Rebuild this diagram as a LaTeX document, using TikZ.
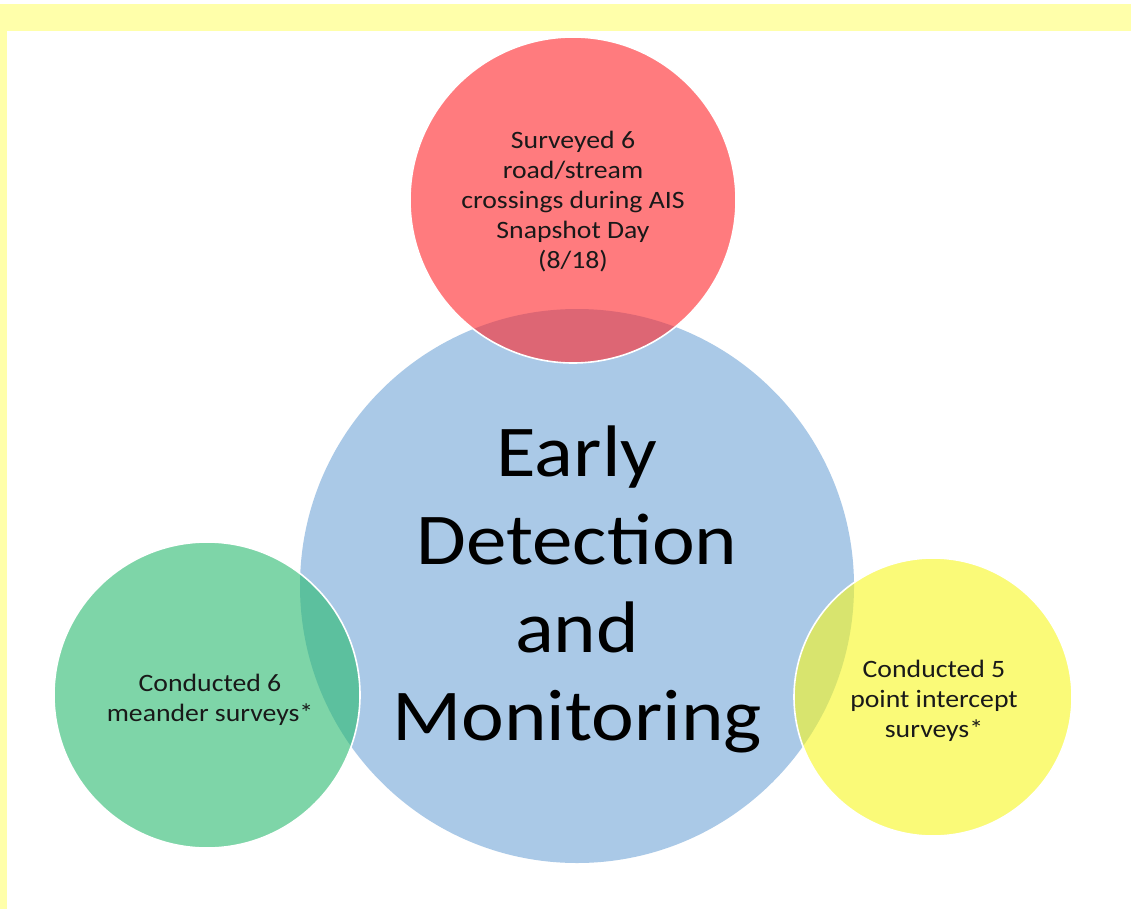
\documentclass[tikz,border=0pt]{standalone}
\usepackage{fontspec}
\setmainfont{Carlito}
\newfontfamily\widefont[FakeStretch=1.11]{Carlito}
\definecolor{bandyellow}{RGB}{255,255,170}
\definecolor{bigblue}{RGB}{170,201,231}
\definecolor{redbase}{RGB}{255,36,40}
\definecolor{greenbase}{RGB}{40,186,110}
\definecolor{yellowbase}{RGB}{247,247,30}
\definecolor{txt}{RGB}{25,25,25}
\tikzset{
  bigcirc/.style={circle, fill=bigblue, draw=none, inner sep=0pt},
  smallcirc/.style={circle, fill opacity=0.6, draw=white, draw opacity=1, line width=1.6pt, inner sep=0pt},
  smalltext/.style={align=center, text=txt, font=\widefont\fontsize{25}{30}\selectfont},
  bigtext/.style={align=center, text=black, font=\widefont\fontsize{73}{88}\selectfont}
}
\begin{document}
\begin{tikzpicture}[x=1pt,y=-1pt]
\useasboundingbox (0,0) rectangle (1131,909);
\fill[white] (0,0) rectangle (1131,909);
\fill[bandyellow] (0,4) rectangle (1131,31);
\fill[bandyellow] (0,4) rectangle (7,909);
% circles
\node[bigcirc, minimum size=554pt] (blue) at (577,586) {};
\node[smallcirc, fill=redbase, minimum size=326pt] (red) at (573,200) {};
\node[smallcirc, fill=greenbase, minimum size=306pt] (green) at (207,695) {};
\node[smallcirc, fill=yellowbase, minimum size=278pt] (yellow) at (933,697) {};
% texts
\node[bigtext] (bt) at (577,589) {Early\\Detection\\and\\Monitoring};
\node[smalltext] (rt) at (573,202) {Surveyed 6\\road/stream\\crossings during AIS\\Snapshot Day\\(8/18)};
\node[smalltext] (gt) at (210,700) {Conducted 6\\meander surveys*};
\node[smalltext] (yt) at (934,701) {Conducted 5\\point intercept\\surveys*};
\end{tikzpicture}
\end{document}
